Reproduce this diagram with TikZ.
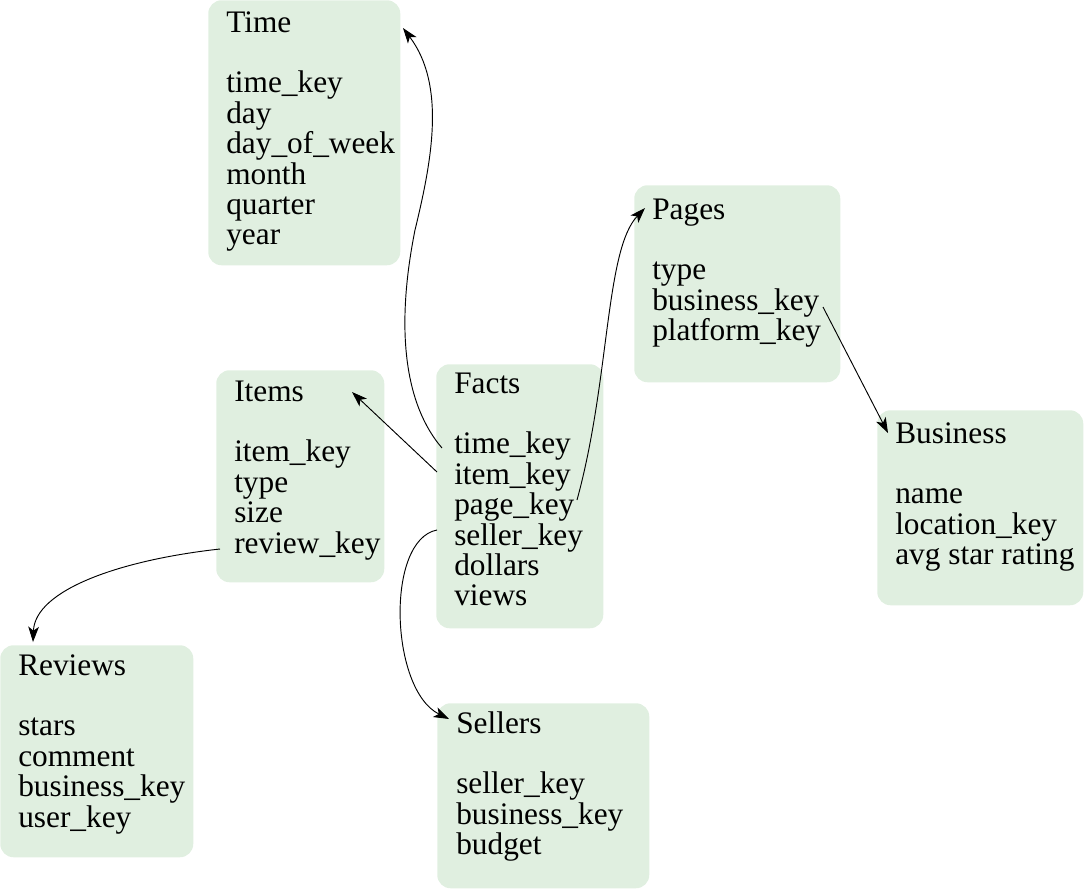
\documentclass[tikz,border=0pt]{standalone}
\usepackage{fontspec}
\setmainfont{Liberation Serif}
\usetikzlibrary{arrows.meta}
\definecolor{boxgreen}{HTML}{E0EFE0}
\newcommand\rowline[1]{\hbox{#1}}
\begin{document}
\begin{tikzpicture}[x=0.75pt,y=-0.75pt,
  tbl/.style={fill=boxgreen, draw=none, rounded corners=10pt, inner sep=0pt, anchor=north west},
  lbl/.style={anchor=base west, inner sep=0pt, font=\fontsize{23.5pt}{22.8pt}\selectfont},
  link/.style={draw=black, line width=0.7pt, -{Stealth[length=11.5pt,width=8pt,inset=3pt]}}]
\useasboundingbox (0,0) rectangle (1089,889);
% boxes
\node[tbl, minimum width=192*0.75pt, minimum height=265*0.75pt] (timebox) at (208,0) {};
\node[tbl, minimum width=206*0.75pt, minimum height=197*0.75pt] (pagesbox) at (634,185) {};
\node[tbl, minimum width=168*0.75pt, minimum height=212*0.75pt] (itemsbox) at (216,370) {};
\node[tbl, minimum width=167*0.75pt, minimum height=264*0.75pt] (factsbox) at (436,364) {};
\node[tbl, minimum width=206*0.75pt, minimum height=195*0.75pt] (busbox) at (877,410) {};
\node[tbl, minimum width=193*0.75pt, minimum height=212*0.75pt] (revbox) at (0,645) {};
\node[tbl, minimum width=212*0.75pt, minimum height=185*0.75pt] (selbox) at (437,703) {};
% texts
\node[lbl] (timetxt) at (226,32) {\vtop{\rowline{Time}\rowline{}\rowline{time\_key}\rowline{day}\rowline{day\_of\_week}\rowline{month}\rowline{quarter}\rowline{year}}};
\node[lbl] (pagestxt) at (652,219) {\vtop{\rowline{Pages}\rowline{}\rowline{type}\rowline{business\_key}\rowline{platform\_key}}};
\node[lbl] (itemstxt) at (234,401) {\vtop{\rowline{Items}\rowline{}\rowline{item\_key}\rowline{type}\rowline{size}\rowline{review\_key}}};
\node[lbl] (factstxt) at (454,393) {\vtop{\rowline{Facts}\rowline{}\rowline{time\_key}\rowline{item\_key}\rowline{page\_key}\rowline{seller\_key}\rowline{dollars}\rowline{views}}};
\node[lbl] (bustxt) at (895,443) {\vtop{\rowline{Business}\rowline{}\rowline{name}\rowline{location\_key}\rowline{avg star rating}}};
\node[lbl] (revtxt) at (18,675) {\vtop{\rowline{Reviews}\rowline{}\rowline{stars}\rowline{comment}\rowline{business\_key}\rowline{user\_key}}};
\node[lbl] (seltxt) at (456,733) {\vtop{\rowline{Sellers}\rowline{}\rowline{seller\_key}\rowline{business\_key}\rowline{budget}}};
% connector end points
\coordinate (f-time) at (442,448);
\coordinate (t-in) at (403,28);
\coordinate (f-item) at (437,472);
\coordinate (i-in) at (352,392);
\coordinate (f-page) at (577,500);
\coordinate (p-in) at (645,208);
\coordinate (p-bus) at (823,307);
\coordinate (b-in) at (888,433);
\coordinate (f-sel) at (437,530);
\coordinate (s-in) at (449,719);
\coordinate (i-rev) at (220,549);
\coordinate (r-in) at (33,642);
% connectors
\draw[link] (f-time) .. controls (405,405) and (395,330) .. (415,230) .. controls (432,160) and (446,85) .. (t-in);
\draw[link] (f-item) -- (i-in);
\draw[link] (f-page) .. controls (610,380) and (605,250) .. (p-in);
\draw[link] (p-bus) -- (b-in);
\draw[link] (f-sel) .. controls (385,540) and (390,690) .. (s-in);
\draw[link] (i-rev) .. controls (120,560) and (35,590) .. (r-in);
\end{tikzpicture}
\end{document}
